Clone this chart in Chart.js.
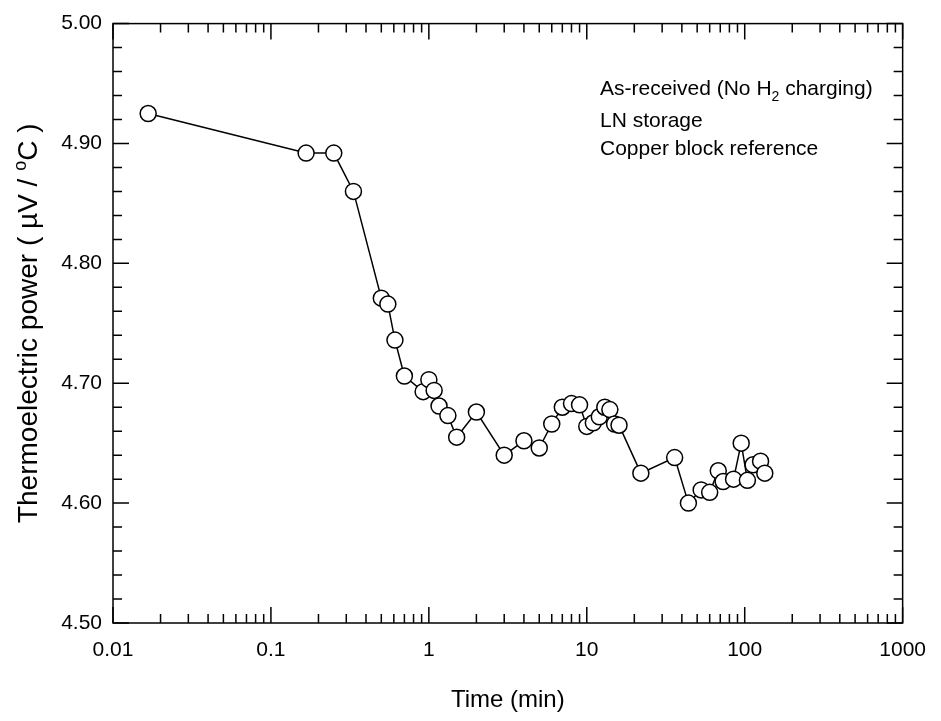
<!DOCTYPE html>
<html>
<head>
<meta charset="utf-8">
<script src="https://cdn.jsdelivr.net/npm/chart.js@4/dist/chart.umd.min.js"></script>
<style>
  body { margin: 0; background: #fff; }
</style>
</head>
<body>
<canvas id="chart1" width="941" height="721"></canvas>
<script>
// data (time in minutes)
const times = [0.0167, 0.167, 0.25, 0.333, 0.5, 0.55, 0.61, 0.7, 0.92, 1.0, 1.08, 1.16, 1.32, 1.5,
    2, 3, 4, 5, 6, 7, 8, 9, 10, 11, 12, 13, 14, 15, 16, 22, 36, 44, 53, 60, 68, 73, 85, 95, 104, 113, 126, 134];
const tep = [4.925, 4.892, 4.892, 4.860, 4.771, 4.766, 4.736, 4.706, 4.693, 4.703, 4.694, 4.681, 4.673, 4.655,
    4.676, 4.640, 4.652, 4.646, 4.666, 4.680, 4.683, 4.682, 4.664, 4.667, 4.672, 4.680, 4.678, 4.666, 4.665,
    4.625, 4.638, 4.600, 4.611, 4.609, 4.627, 4.618, 4.620, 4.650, 4.619, 4.632, 4.635, 4.625];

const xTickValues = [0.01, 0.1, 1, 10, 100, 1000];
const xTickLabels = ['0.01', '0.1', '1', '10', '100', '1000'];
const yTickLabels = ['4.50', '4.60', '4.70', '4.80', '4.90', '5.00'];
const notes = ['As-received (No H', 'LN storage', 'Copper block reference'];

const FONT = '"Liberation Sans", Arial, sans-serif';

const points = times.map((t, i) => ({x: t, y: tep[i]}));

// frame + inward ticks on all four sides, titles and note text
const decor = {
    id: 'decor',
    afterDraw(chart) {
        const c = chart.ctx;
        const a = chart.chartArea;
        const xs = chart.scales.x;
        const ys = chart.scales.y;
        c.save();
        c.strokeStyle = '#000';
        c.lineWidth = 1.5;
        c.strokeRect(a.left, a.top, a.right - a.left, a.bottom - a.top);

        c.beginPath();
        for (let d = -2; d <= 3; d++) {
            for (let m = 1; m <= 9; m++) {
                if (d == 3 && m > 1) break;
                const v = m * Math.pow(10, d);
                const px = xs.getPixelForValue(v);
                const len = m == 1 ? 16 : 9;
                c.moveTo(px, a.bottom); c.lineTo(px, a.bottom - len);
                c.moveTo(px, a.top); c.lineTo(px, a.top + len);
            }
        }
        for (let k = 0; k <= 25; k++) {
            const v = 4.5 + k * 0.02;
            const py = ys.getPixelForValue(v);
            const len = k % 5 == 0 ? 16 : 9;
            c.moveTo(a.left, py); c.lineTo(a.left + len, py);
            c.moveTo(a.right, py); c.lineTo(a.right - len, py);
        }
        c.stroke();

        c.fillStyle = '#000';
        // x title
        c.font = '24px ' + FONT;
        c.textAlign = 'center';
        c.textBaseline = 'alphabetic';
        c.fillText('Time (min)', (a.left + a.right) / 2, 707);

        // y title with superscript o
        c.save();
        c.translate(37, (a.top + a.bottom) / 2);
        c.rotate(-Math.PI / 2);
        const big = '28px ' + FONT, small = '18px ' + FONT;
        const p1 = 'Thermoelectric power ( \u00b5V / ', p2 = 'o', p3 = 'C )';
        c.font = big; const w1 = c.measureText(p1).width, w3 = c.measureText(p3).width;
        c.font = small; const w2 = c.measureText(p2).width;
        let x0 = -(w1 + w2 + w3) / 2;
        c.textAlign = 'left';
        c.font = big; c.fillText(p1, x0, 0);
        c.font = small; c.fillText(p2, x0 + w1, -11);
        c.font = big; c.fillText(p3, x0 + w1 + w2, 0);
        c.restore();

        // notes
        c.textAlign = 'left';
        const nx = 600;
        c.font = '21px ' + FONT;
        c.fillText(notes[0], nx, 95);
        let w = c.measureText(notes[0]).width;
        c.font = '14px ' + FONT;
        c.fillText('2', nx + w, 101);
        w += c.measureText('2').width;
        c.font = '21px ' + FONT;
        c.fillText(' charging)', nx + w, 95);
        c.fillText(notes[1], nx, 127);
        c.fillText(notes[2], nx, 155);
        c.restore();
    }
};

const ctx1 = document.getElementById('chart1').getContext('2d');
const chart1 = new Chart(ctx1, {
    type: 'line',
    data: {
        datasets: [
            {
            label: 'TEP',
            data: points,
            borderColor: '#000',
            borderWidth: 1.5,
            pointRadius: 8,
            pointBorderWidth: 1.5,
            pointBackgroundColor: '#fff',
            pointBorderColor: '#000',
            tension: 0
            }
        ]
    },
    options: {
        responsive: false,
        animation: false,
        layout: {padding: {top: 14, right: 29, left: 0, bottom: 0}},
        plugins: {legend: {display: false}, tooltip: {enabled: false}},
        scales: {
            x: {
                type: 'logarithmic',
                min: 0.01,
                max: 1000,
                grid: {display: false, drawTicks: false},
                border: {display: false},
                afterBuildTicks: (scale) => {
                    scale.ticks = xTickValues.map(v => ({value: v}));
                },
                afterFit: (scale) => { scale.height = 98; },
                ticks: {
                    autoSkip: false,
                    maxRotation: 0,
                    padding: 15,
                    color: '#000',
                    font: {family: FONT, size: 21},
                    callback: (v, i) => xTickLabels[i]
                }
            },
            y: {
                min: 4.5,
                max: 5.0,
                grid: {display: false, drawTicks: false},
                border: {display: false},
                afterFit: (scale) => { scale.width = 113; },
                ticks: {
                    stepSize: 0.1,
                    padding: 11,
                    color: '#000',
                    font: {family: FONT, size: 21},
                    callback: (v, i) => yTickLabels[i]
                }
            }
        }
    },
    plugins: [decor]
});
</script>
</body>
</html>
